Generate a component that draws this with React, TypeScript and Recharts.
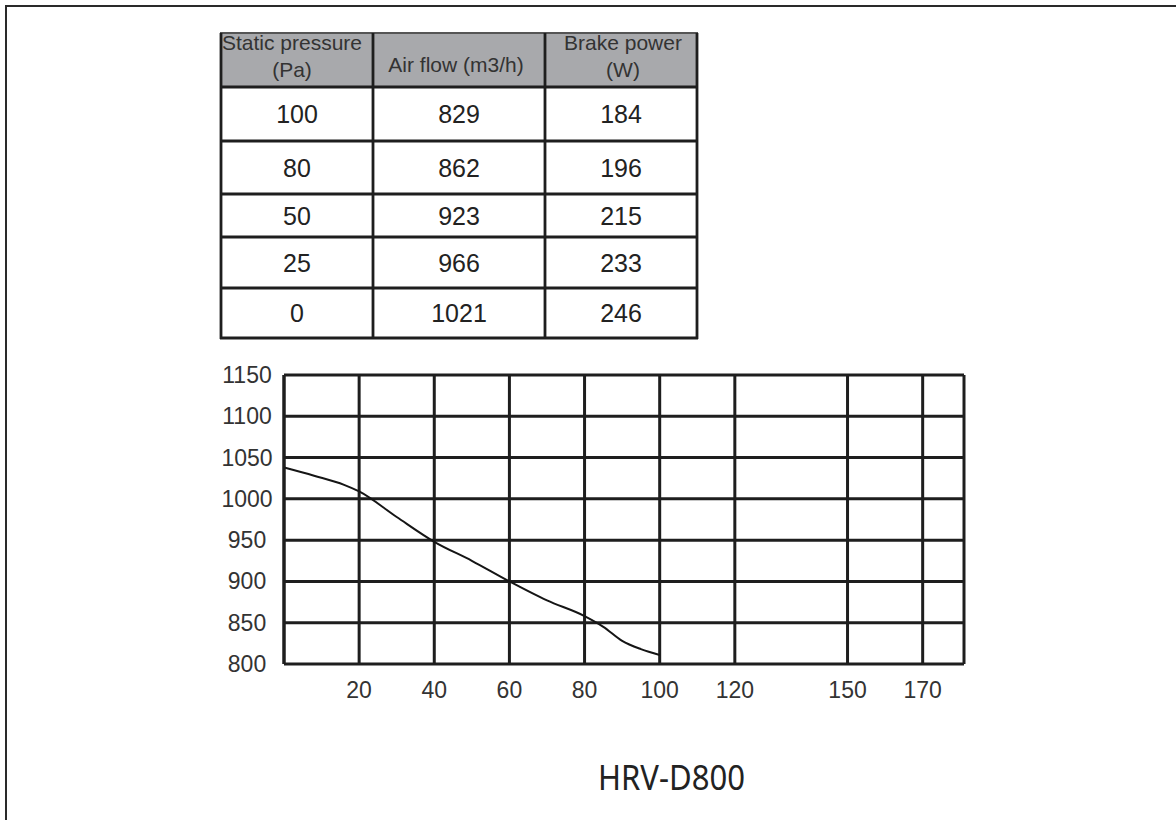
import React from 'react';
import { LineChart, Line, XAxis, YAxis, CartesianGrid } from 'recharts';

// table values (HRV-D800 performance)
const tableHeaders = [['Static pressure', '(Pa)'], ['Air flow (m3/h)'], ['Brake power', '(W)']];
const staticPressure = [100, 80, 50, 25, 0];
const airFlow = [829, 862, 923, 966, 1021];
const brakePower = [184, 196, 215, 233, 246];

// curve: static pressure (Pa) vs air flow (m3/h)
const curvePressure = [0, 8, 16, 20, 30, 40, 50, 60, 70, 80, 85, 90, 95, 100];
const curveAirFlow = [1038, 1028, 1017, 1009, 978, 948, 925, 900, 877, 858, 845, 828, 818, 811];

const xTicks = [20, 40, 60, 80, 100, 120, 150, 170];
const yTicks = [800, 850, 900, 950, 1000, 1050, 1100, 1150];
const modelName = 'HRV-D800';

const curveData = curvePressure.map((p, i) => ({ pressure: p, flow: curveAirFlow[i] }));

// layout
const W = 1176;
const H = 820;
const SANS = "'Liberation Sans', Arial, sans-serif";
const LINE = '#1e1e1e';
const colX = [221, 373, 545, 697];
const rowY = [33, 87, 141, 194, 237, 288, 338];

const XTick = ({ x, y, payload }: any) => (
  <text x={x} y={y + 34} textAnchor="middle" fontSize={23} fill="#333" fontFamily={SANS}>
    {payload.value}
  </text>
);

const YTick = ({ x, y, payload }: any) => (
  <text x={x - 37} y={y} dy={8} textAnchor="middle" fontSize={23} fill="#333" fontFamily={SANS}>
    {payload.value}
  </text>
);

const PerfTable = () => {
  const rows = staticPressure.map((p, i) => [p, airFlow[i], brakePower[i]]);
  const centers = [292, 456, 623];
  return (
    <svg width={W} height={H} style={{ position: 'absolute', left: 0, top: 0 }}>
      <rect x={colX[0]} y={rowY[0]} width={colX[3] - colX[0]} height={rowY[1] - rowY[0]} fill="#a8a9ac" />
      {/* header */}
      {tableHeaders.map((lines, c) =>
        lines.length === 2 ? (
          <g key={c}>
            <text x={centers[c]} y={50} textAnchor="middle" fontSize={21} fill="#333" fontFamily={SANS}>{lines[0]}</text>
            <text x={centers[c]} y={77} textAnchor="middle" fontSize={21} fill="#333" fontFamily={SANS}>{lines[1]}</text>
          </g>
        ) : (
          <text key={c} x={centers[c]} y={72} textAnchor="middle" fontSize={21} fill="#333" fontFamily={SANS}>{lines[0]}</text>
        )
      )}
      {/* body */}
      {rows.map((row, r) =>
        row.map((v, c) => (
          <text
            key={`${r}-${c}`}
            x={(colX[c] + colX[c + 1]) / 2}
            y={(rowY[r + 1] + rowY[r + 2]) / 2}
            dy={9}
            textAnchor="middle"
            fontSize={25}
            fill="#222"
            fontFamily={SANS}
          >
            {v}
          </text>
        ))
      )}
      {rowY.map((y, i) => (
        <line key={`h${i}`} x1={colX[0] - 1} x2={colX[3] + 1} y1={y} y2={y} stroke={i === 0 ? '#555' : LINE} strokeWidth={i === 0 ? 2 : 2.8} />
      ))}
      {colX.map((x, i) => (
        <line key={`v${i}`} x1={x} x2={x} y1={rowY[0]} y2={rowY[6] + 1} stroke={LINE} strokeWidth={2.8} />
      ))}
    </svg>
  );
};

export default function App() {
  return (
    <div style={{ position: 'fixed', left: 0, top: 0, width: W, height: H, background: '#fff', overflow: 'hidden' }}>
      {/* page frame */}
      <div style={{ position: 'absolute', left: 5, top: 5, width: 1300, height: 1000, border: '2px solid #2a2a2a' }} />

      <PerfTable />

      <div style={{ position: 'absolute', left: 0, top: 0 }}>
        <LineChart width={W} height={H} data={curveData} margin={{ top: 375, right: 212, bottom: 126, left: 224 }}>
          <CartesianGrid stroke={LINE} strokeWidth={3} />
          <XAxis
            dataKey="pressure"
            type="number"
            domain={[0, 181]}
            ticks={xTicks}
            axisLine={false}
            tickLine={false}
            tickSize={0}
            tickMargin={0}
            height={30}
            interval={0}
            tick={<XTick />}
          />
          <YAxis
            type="number"
            domain={[800, 1150]}
            ticks={yTicks}
            axisLine={{ stroke: LINE, strokeWidth: 3 }}
            tickLine={false}
            tickSize={0}
            tickMargin={0}
            width={60}
            interval={0}
            tick={<YTick />}
          />
          <Line
            type="monotone"
            dataKey="flow"
            stroke="#151515"
            strokeWidth={2}
            dot={false}
            isAnimationActive={false}
          />
        </LineChart>
      </div>

      <svg width={W} height={60} style={{ position: 'absolute', left: 0, top: 750 }}>
        <text
          x={598}
          y={40}
          fontSize={35}
          fill="#222"
          fontFamily="'Noto Sans', 'DejaVu Sans', sans-serif"
          textLength={147}
          lengthAdjust="spacingAndGlyphs"
        >
          {modelName}
        </text>
      </svg>
    </div>
  );
}
